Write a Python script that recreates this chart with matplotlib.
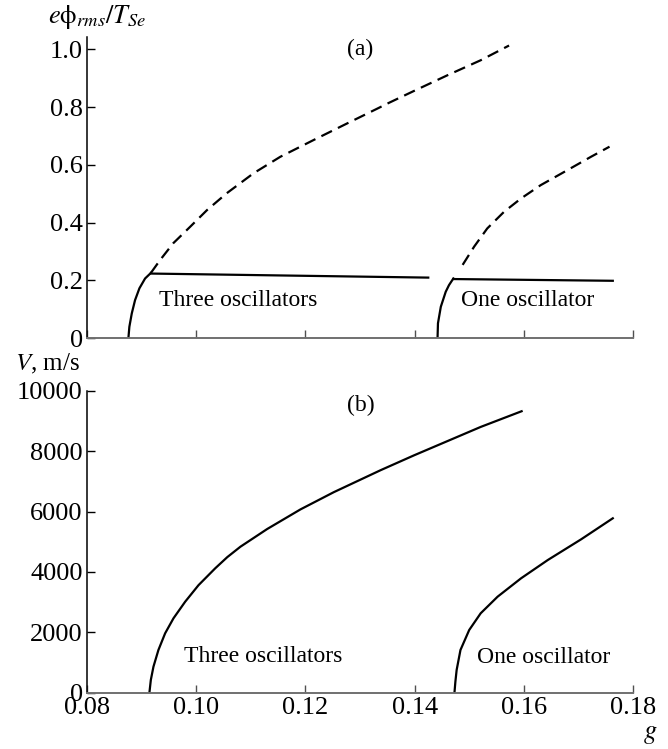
import matplotlib.pyplot as plt

plt.rcParams['font.family'] = ['Liberation Serif', 'DejaVu Serif']
plt.rcParams['mathtext.fontset'] = 'stix'

# (a) e*phi_rms/T_Se versus g
g_three_rise = [0.08758, 0.08776, 0.0882, 0.0888, 0.0896, 0.09064, 0.09169]
a_three_rise = [0.0, 0.040, 0.086, 0.132, 0.173, 0.207, 0.226]
g_three_flat = [0.09169, 0.1425]
a_three_flat = [0.224, 0.210]
g_three_dash = [0.09169, 0.0934, 0.0958, 0.0989, 0.1020, 0.1056, 0.1105, 0.1154,
                0.1215, 0.1277, 0.1332, 0.1350, 0.1399, 0.1460, 0.1521, 0.1573]
a_three_dash = [0.226, 0.271, 0.329, 0.386, 0.444, 0.502, 0.571, 0.628,
                0.686, 0.744, 0.795, 0.812, 0.856, 0.910, 0.962, 1.013]

g_one_rise = [0.1442, 0.14428, 0.1448, 0.1457, 0.1463, 0.1471]
a_one_rise = [0.0, 0.052, 0.109, 0.161, 0.184, 0.207]
g_one_flat = [0.1471, 0.1763]
a_one_flat = [0.205, 0.199]
g_one_dash = [0.1488, 0.1509, 0.1533, 0.1564, 0.1595, 0.1631, 0.1680, 0.1723, 0.1757]
a_one_dash = [0.254, 0.317, 0.380, 0.438, 0.484, 0.530, 0.582, 0.628, 0.663]

# (b) V (m/s) versus g
g_three_v = [0.09143, 0.09169, 0.09217, 0.09308, 0.09431, 0.09584, 0.09798, 0.10042,
             0.10349, 0.1057, 0.1081, 0.1130, 0.1191, 0.1252, 0.1338, 0.1399, 0.1460,
             0.1521, 0.1596]
v_three = [0, 422, 861, 1414, 1967, 2464, 3013, 3560,
           4120, 4490, 4834, 5420, 6070, 6640, 7370, 7860, 8330, 8800, 9320]
g_one_v = [0.1473, 0.14747, 0.1477, 0.1484, 0.1500, 0.1521, 0.1552, 0.1595, 0.1644,
           0.1705, 0.1763]
v_one = [0, 364, 752, 1414, 2076, 2629, 3179, 3788, 4394, 5079, 5775]

x_ticks = [0.08, 0.10, 0.12, 0.14, 0.16, 0.18]
x_labels = ['0.08', '0.10', '0.12', '0.14', '0.16', '0.18']
top_ticks = [0, 0.2, 0.4, 0.6, 0.8, 1.0]
top_labels = ['0', '0.2', '0.4', '0.6', '0.8', '1.0']
bot_ticks = [0, 2000, 4000, 6000, 8000, 10000]

W, H = 668, 749
fig = plt.figure(figsize=(W / 100, H / 100), dpi=100)
left, right = 87 / W, 633 / W
ax1 = fig.add_axes([left, 1 - 338.3 / H, right - left, (338.3 - 37) / H])
ax2 = fig.add_axes([left, 1 - 692.7 / H, right - left, (692.7 - 390.7) / H])

lw = 1.6
dash = (0, (5.3, 3))
ax1.plot(g_three_rise, a_three_rise, color='black', lw=lw)
ax1.plot(g_three_flat, a_three_flat, color='black', lw=lw)
ax1.plot(g_three_dash, a_three_dash, color='black', lw=lw, linestyle=dash)
ax1.plot(g_one_rise, a_one_rise, color='black', lw=lw)
ax1.plot(g_one_flat, a_one_flat, color='black', lw=lw)
ax1.plot(g_one_dash, a_one_dash, color='black', lw=lw, linestyle=dash)

ax2.plot(g_three_v, v_three, color='black', lw=lw)
ax2.plot(g_one_v, v_one, color='black', lw=lw)

for ax in (ax1, ax2):
    ax.set_xlim(0.08, 0.18)
    ax.set_xticks(x_ticks)
    ax.spines['top'].set_visible(False)
    ax.spines['right'].set_visible(False)
    ax.spines['left'].set_linewidth(1.1)
    ax.spines['bottom'].set_linewidth(1.4)
    ax.spines['bottom'].set_color('#707070')
    ax.tick_params(direction='in', length=6, width=1, labelsize=19, pad=3)
    ax.tick_params(axis='x', color='#505050')

ax1.set_ylim(0, 1.0425)
ax1.set_yticks(top_ticks)
ax1.set_yticklabels(top_labels)
ax1.set_xticklabels([])

ax2.set_ylim(0, 10000)
ax2.set_yticks(bot_ticks)
ax2.set_xticklabels(x_labels)

ax1.text(0.1301, 1.0, '(a)', fontsize=17, ha='center', va='center')
ax1.text(0.1077, 0.131, 'Three oscillators', fontsize=17, ha='center', va='center')
ax1.text(0.1607, 0.131, 'One oscillator', fontsize=17, ha='center', va='center')
ax2.text(0.1301, 9526, '(b)', fontsize=17, ha='center', va='center')
ax2.text(0.1123, 1192, 'Three oscillators', fontsize=17, ha='center', va='center')
ax2.text(0.1637, 1150, 'One oscillator', fontsize=17, ha='center', va='center')

fig.text(48 / W, 1 - 17 / H, r'$e\mathrm{\phi}_{rms}/T_{Se}$', fontsize=19, ha='left', va='center')
fig.text(15 / W, 1 - 364 / H, r'$V$, m/s', fontsize=18, ha='left', va='center')
ax2.text(1.031, -0.14, r'$g$', fontsize=19, ha='center', va='center', transform=ax2.transAxes)

fig.savefig('out.png', dpi=100)
